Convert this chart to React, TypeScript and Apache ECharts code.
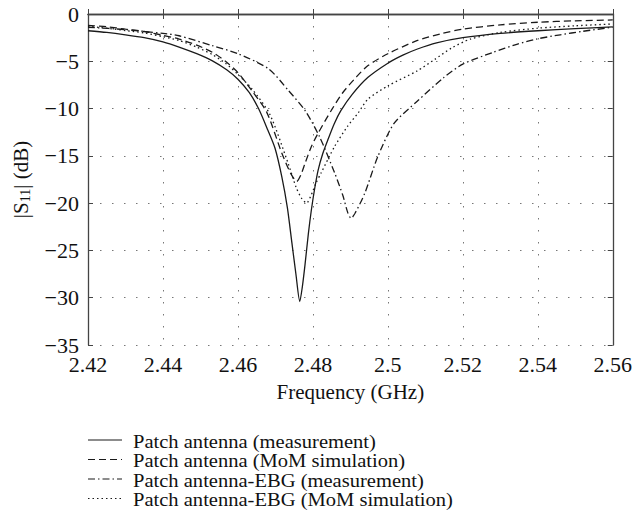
import React, { useEffect, useRef } from "react";
import * as echarts from "echarts";

const seriesNames = [
  "Patch antenna (measurement)",
  "Patch antenna (MoM simulation)",
  "Patch antenna-EBG (measurement)",
  "Patch antenna-EBG (MoM simulation)",
];

// [frequency GHz, |S11| dB]
const patchMeas: number[][] = [
  [2.42, -1.77], [2.425, -1.95], [2.43, -2.2], [2.435, -2.5], [2.44, -2.95],
  [2.4443, -3.5], [2.449, -4.2], [2.4532, -4.95], [2.457, -5.9], [2.46, -6.9],
  [2.463, -8.3], [2.4655, -10.0], [2.468, -12.3], [2.4699, -14.2], [2.4717, -17.2],
  [2.4732, -20.5], [2.4744, -24.2], [2.4755, -27.6], [2.4765, -30.4], [2.4772, -28.8],
  [2.4779, -26.5], [2.4788, -23.2], [2.4796, -20.7], [2.4805, -18.4], [2.4814, -16.5],
  [2.4826, -14.8], [2.484, -13.3], [2.4857, -11.6], [2.4875, -10.2], [2.4905, -8.5],
  [2.4947, -6.7], [2.5, -5.2], [2.504, -4.35], [2.5079, -3.7], [2.513, -3.05],
  [2.52, -2.5], [2.53, -2.05], [2.54, -1.77], [2.55, -1.55], [2.56, -1.36],
];

const patchMoM: number[][] = [
  [2.42, -1.2], [2.425, -1.35], [2.43, -1.6], [2.435, -1.85], [2.44, -2.25],
  [2.4443, -2.65], [2.449, -3.3], [2.4532, -4.05], [2.457, -5.1], [2.46, -6.2],
  [2.4637, -8.1], [2.4677, -10.4], [2.4717, -14.7], [2.474, -16.8], [2.4757, -17.7],
  [2.4768, -17.0], [2.4779, -15.8], [2.4796, -14.0], [2.4814, -12.6], [2.4849, -10.2],
  [2.488, -8.3], [2.4915, -6.7], [2.4947, -5.45], [2.5, -4.2], [2.5079, -2.8],
  [2.514, -2.1], [2.52, -1.6], [2.53, -1.15], [2.54, -0.87], [2.55, -0.72], [2.56, -0.63],
];

const ebgMeas: number[][] = [
  [2.42, -1.4], [2.43, -1.65], [2.44, -2.05], [2.4443, -2.3], [2.4532, -3.35],
  [2.46, -4.2], [2.4682, -5.8], [2.4735, -8.1], [2.4779, -10.2], [2.4818, -13.0],
  [2.4858, -16.8], [2.488, -19.2], [2.4893, -21.0], [2.4902, -21.6], [2.4912, -21.1],
  [2.4938, -19.0], [2.4973, -15.1], [2.5016, -11.6], [2.5079, -9.2], [2.515, -6.7],
  [2.52, -5.3], [2.5281, -4.05], [2.5344, -3.2], [2.5396, -2.65], [2.546, -2.2],
  [2.552, -1.83], [2.56, -1.4],
];

const ebgMoM: number[][] = [
  [2.42, -1.3], [2.425, -1.5], [2.43, -1.75], [2.435, -2.0], [2.44, -2.4],
  [2.4443, -2.8], [2.449, -3.5], [2.4532, -4.3], [2.457, -5.3], [2.46, -6.4],
  [2.4637, -7.9], [2.4685, -10.6], [2.4734, -15.8], [2.4755, -18.3], [2.477, -19.5],
  [2.4783, -20.0], [2.4795, -19.2], [2.4808, -17.9], [2.4822, -16.8], [2.4858, -14.0],
  [2.4892, -11.9], [2.492, -10.5], [2.4947, -9.0], [2.5, -7.6], [2.5079, -6.0],
  [2.5125, -4.8], [2.517, -3.6], [2.522, -2.65], [2.53, -1.95], [2.54, -1.5], [2.55, -1.25], [2.56, -1.05],
];

const xTicks = { min: 2.42, max: 2.56, interval: 0.02 };
const yTicks = { min: -35, max: 0, interval: 5 };

const dashTypes: any[] = ["solid", [7, 4], [7, 3, 1.5, 3], [1.5, 3]];

const FONT = "'Liberation Serif', 'DejaVu Serif', serif";

export default function App() {
  const ref = useRef<HTMLDivElement>(null);
  useEffect(() => {
    if (!ref.current) return;
    const chart = echarts.init(ref.current, undefined, { renderer: "svg" });
    const lineColor = "#1a1a1a";
    const frame = "#444";
    const allData = [patchMeas, patchMoM, ebgMeas, ebgMoM];
    const series = seriesNames.map((name, i) => ({
      name,
      type: "line",
      data: allData[i],
      symbol: "none",
      smooth: 0.25,
      lineStyle: { color: lineColor, width: 1.3, type: dashTypes[i] },
      itemStyle: { color: lineColor },
      z: 3,
    }));
    const legendX = 88;
    const legendY = 440;
    const rowH = 19.5;
    const legendGraphics: any[] = [];
    seriesNames.forEach((name, i) => {
      const y = legendY + i * rowH;
      legendGraphics.push({
        type: "line",
        shape: { x1: legendX, y1: y, x2: legendX + 34, y2: y },
        style: { stroke: lineColor, lineWidth: 1.2, lineDash: i === 0 ? null : dashTypes[i] },
      });
      legendGraphics.push({
        type: "text",
        x: legendX + 45,
        y: y + 1,
        scaleX: 1.07,
        style: {
          text: name,
          fontFamily: FONT,
          fontSize: 19.2,
          fill: "#111",
          verticalAlign: "middle",
        },
      });
    });
    chart.setOption({
      animation: false,
      backgroundColor: "#fff",
      textStyle: { fontFamily: FONT },
      grid: { left: 88, top: 14, right: 18, bottom: 186 },
      graphic: legendGraphics,
      xAxis: [
        {
          type: "value",
          ...xTicks,
          name: "Frequency (GHz)",
          nameLocation: "middle",
          nameGap: 36,
          nameTextStyle: { fontFamily: FONT, fontSize: 21, color: "#111" },
          axisLine: { show: true, lineStyle: { color: frame, width: 1.3 } },
          axisTick: { show: true, inside: true, length: 5, lineStyle: { color: frame } },
          axisLabel: { fontFamily: FONT, fontSize: 22, color: "#111", margin: 8 },
          splitLine: { show: true, lineStyle: { color: "#777", width: 1, type: [1.5, 10.5] } },
        },
        {
          type: "value",
          ...xTicks,
          position: "top",
          axisLine: { show: true, lineStyle: { color: frame, width: 1.3 } },
          axisTick: { show: true, inside: true, length: 5, lineStyle: { color: frame } },
          axisLabel: { show: false },
          splitLine: { show: false },
        },
      ],
      yAxis: [
        {
          type: "value",
          ...yTicks,
          name: "{n|\u007CS}{s|11}{n|\u007C (dB)}",
          nameLocation: "middle",
          nameGap: 56,
          nameRotate: 90,
          nameTextStyle: {
            fontFamily: FONT,
            color: "#111",
            rich: {
              n: { fontFamily: FONT, fontSize: 21, color: "#111" },
              s: { fontFamily: FONT, fontSize: 14, color: "#111", padding: [9, 0, 0, 0] },
            },
          },
          axisLine: { show: true, lineStyle: { color: frame, width: 1.3 } },
          axisTick: { show: true, inside: true, length: 5, lineStyle: { color: frame } },
          axisLabel: {
            fontFamily: FONT,
            fontSize: 22,
            color: "#111",
            margin: 9,
            formatter: (v: number) => String(v).replace("-", "\u2212"),
          },
          splitLine: { show: true, lineStyle: { color: "#777", width: 1, type: [1.5, 10.5] } },
        },
        {
          type: "value",
          ...yTicks,
          position: "right",
          axisLine: { show: true, lineStyle: { color: frame, width: 1.3 } },
          axisTick: { show: true, inside: true, length: 5, lineStyle: { color: frame } },
          axisLabel: { show: false },
          splitLine: { show: false },
        },
      ],
      series,
    });
    return () => chart.dispose();
  }, []);
  return (
    <div
      ref={ref}
      style={{ position: "fixed", left: 0, top: 0, width: 635, height: 531 }}
    />
  );
}
